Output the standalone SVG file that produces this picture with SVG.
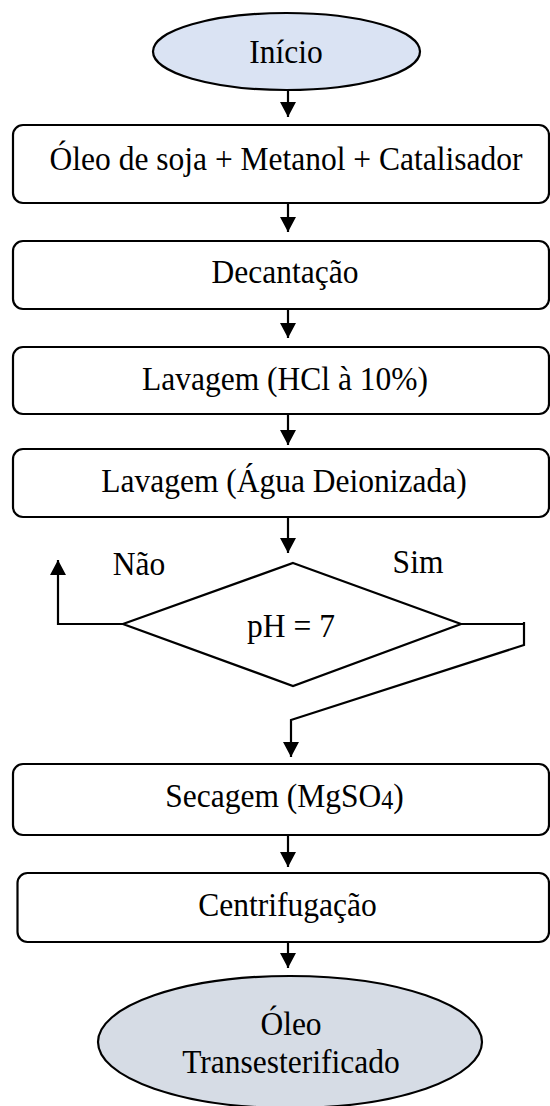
<svg xmlns="http://www.w3.org/2000/svg" width="550" height="1106" viewBox="0 0 550 1106">
<style>
.box{fill:#ffffff;stroke:#000;stroke-width:2.2}
.t{font-family:"Liberation Serif","Times New Roman",serif;font-size:31.5px;fill:#000;text-anchor:middle}
.c{fill:none;stroke:#000;stroke-width:2.2}
</style>
<defs>
<marker id="ah" markerUnits="userSpaceOnUse" markerWidth="16" markerHeight="16" viewBox="0 0 16 16" refX="15" refY="8" orient="auto">
<path d="M0,0 L15,8 L0,16 Z" fill="#000"/>
</marker>
</defs>
<rect width="550" height="1106" fill="#ffffff"/>
<g id="inicio">
<ellipse cx="286.5" cy="51.5" rx="133.5" ry="38.5" fill="#dae3f3" stroke="#000" stroke-width="2.2"/>
<text class="t" transform="translate(286,63) scale(1,1.1)">Início</text>
</g>
<g id="mistura">
<rect class="box" x="13" y="125" width="536" height="78" rx="10"/>
<text class="t" transform="translate(286,170) scale(1,1.1)">Óleo de soja + Metanol + Catalisador</text>
</g>
<g id="decantacao">
<rect class="box" x="13" y="241" width="536" height="68" rx="10"/>
<text class="t" transform="translate(285,283) scale(1,1.1)">Decantação</text>
</g>
<g id="lavagem-hcl">
<rect class="box" x="13" y="347" width="536" height="67" rx="10"/>
<text class="t" transform="translate(285,390) scale(1,1.1)">Lavagem (HCl à 10%)</text>
</g>
<g id="lavagem-agua">
<rect class="box" x="13" y="449" width="536" height="68" rx="10"/>
<text class="t" transform="translate(284,492) scale(1,1.1)">Lavagem (Água Deionizada)</text>
</g>
<g id="decisao">
<polygon points="293,563 461,624 293,686 123,624" fill="#ffffff" stroke="#000" stroke-width="2.2"/>
<text class="t" transform="translate(291,637) scale(1,1.1)">pH = 7</text>
</g>
<g id="secagem">
<rect class="box" x="13" y="764" width="536" height="71" rx="10"/>
<text class="t" transform="translate(284.5,807) scale(1,1.1)">Secagem (MgSO<tspan font-size="24px" dy="2">4</tspan><tspan dy="-2">)</tspan></text>
</g>
<g id="centrifugacao">
<rect class="box" x="17.5" y="873" width="531.5" height="69" rx="10"/>
<text class="t" transform="translate(287.5,916) scale(1,1.1)">Centrifugação</text>
</g>
<g id="fim">
<ellipse cx="290" cy="1042" rx="192" ry="66" fill="#d6dce5" stroke="#000" stroke-width="2.2"/>
<text class="t" transform="translate(291,1035) scale(1,1.1)">Óleo</text>
<text class="t" transform="translate(291,1073) scale(1,1.1)">Transesterificado</text>
</g>
<g id="connectors">
<line class="c" x1="288" y1="90" x2="288" y2="117" marker-end="url(#ah)"/>
<line class="c" x1="288" y1="203" x2="288" y2="232" marker-end="url(#ah)"/>
<line class="c" x1="288" y1="309" x2="288" y2="338" marker-end="url(#ah)"/>
<line class="c" x1="288" y1="414" x2="288" y2="445" marker-end="url(#ah)"/>
<line class="c" x1="288" y1="517" x2="288" y2="553" marker-end="url(#ah)"/>
<polyline class="c" points="123,624 58,624 58,560" marker-end="url(#ah)"/>
<polyline class="c" points="461,624 523,624"/>
<polyline class="c" points="524,622 524,645 291,720 291,757" marker-end="url(#ah)"/>
<line class="c" x1="288" y1="835" x2="288" y2="867" marker-end="url(#ah)"/>
<line class="c" x1="288" y1="942" x2="288" y2="968" marker-end="url(#ah)"/>
<text class="t" transform="translate(139,575) scale(1,1.1)">Não</text>
<text class="t" transform="translate(418,573) scale(1,1.1)">Sim</text>
</g>
</svg>
